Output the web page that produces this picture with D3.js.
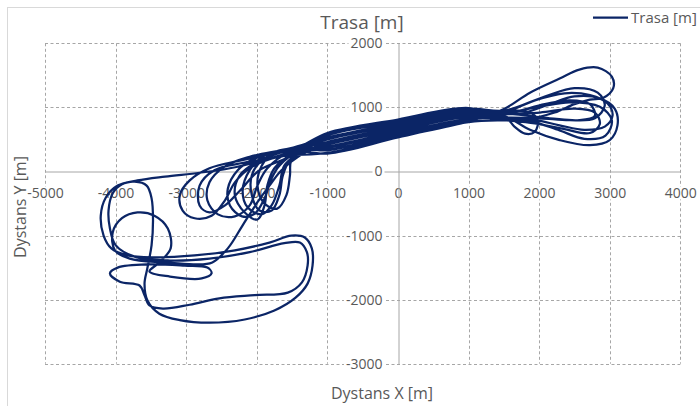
<!DOCTYPE html>
<html>
<head>
<meta charset="utf-8">
<script src="https://cdn.jsdelivr.net/npm/d3@7"></script>
<style>
  html, body { margin: 0; padding: 0; background: #fff; }
  svg { display: block; }
</style>
</head>
<body>
<div id="chart"></div>
<script>
// ---- chart texts and ticks ----
const chartTitle = "Trasa [m]";
const seriesName = "Trasa [m]";
const xTitle = "Dystans X [m]";
const yTitle = "Dystans Y [m]";
const xTicks = [-5000, -4000, -3000, -2000, -1000, 0, 1000, 2000, 3000, 4000];
const yTicks = [-3000, -2000, -1000, 0, 1000, 2000];

// ---- track data [X m, Y m] ----
const leftLoops = [
  [[-1680,300],[-2240,170],[-2670,50],[-2950,-140],[-3090,-370],[-3050,-610],[-2880,-730],[-2640,-690],[-2450,-450],[-2310,-170],[-2100,50],[-1680,230]],
  [[-1530,360],[-2100,230],[-2450,80],[-2670,-170],[-2700,-450],[-2550,-670],[-2310,-700],[-2100,-530],[-1990,-220],[-1850,50],[-1530,300]],
  [[-1530,330],[-2030,200],[-2270,20],[-2410,-270],[-2380,-530],[-2210,-700],[-2030,-660],[-1890,-420],[-1790,-110],[-1680,90],[-1390,330]],
  [[-1460,370],[-1890,250],[-2100,20],[-2200,-300],[-2130,-560],[-1930,-670],[-1790,-530],[-1680,-220],[-1610,90],[-1390,300]],
  [[-1390,390],[-1750,300],[-1930,90],[-1990,-220],[-1890,-500],[-1710,-580],[-1580,-370],[-1530,-60],[-1510,170],[-1320,330]],
  [[-1530,330],[-1960,170],[-2240,-60],[-2310,-370],[-2170,-640],[-1990,-750],[-1890,-530],[-1850,-220],[-1750,50],[-1460,300]],
  [[-1530,270],[-2170,140],[-2600,20],[-2810,-220],[-2810,-530],[-2670,-640],[-2450,-530],[-2240,-300],[-1960,20],[-1530,230]],
  [[-1610,330],[-1930,170],[-2070,-60],[-2070,-370],[-1960,-610],[-1790,-610],[-1680,-370],[-1630,-60],[-1530,170],[-1320,300]]
];
const rightLoops = [
  [[1510,980],[1870,1230],[2290,1450],[2570,1590],[2830,1620],[3030,1480],[3050,1300],[2910,1150],[2720,1120],[2500,1050],[2220,920],[1870,830],[1510,830]],
  [[1510,920],[1940,1110],[2360,1220],[2720,1190],[2970,1060],[3040,870],[2930,700],[2640,650],[2290,720],[1940,800],[1510,800]],
  [[1510,860],[1870,650],[2290,490],[2720,410],[3000,490],[3110,720],[3070,980],[2860,1140],[2500,1170],[2150,1050],[1800,920],[1510,890]],
  [[1510,920],[2010,1010],[2430,1080],[2860,1010],[3030,800],[2940,560],[2640,510],[2290,640],[1870,790],[1510,830]],
  [[1510,890],[2010,920],[2500,980],[2790,920],[2860,740],[2720,600],[2360,660],[1940,750],[1510,800]],
  [[1510,860],[1650,700],[1800,590],[1940,620],[1980,800],[1870,920],[1650,950],[1510,920]],
  [[1510,950],[2080,1170],[2500,1300],[2830,1230],[2930,1030],[2790,830],[2430,800],[2010,830],[1510,840]],
  [[1510,900],[2150,830],[2570,800],[2790,870],[2720,1050],[2430,1110],[2080,1050],[1510,900]]
];
const outbound = [
  [[-1000,290],[0,540],[1000,780]],
  [[-1000,370],[0,610],[1000,830]],
  [[-1000,460],[0,690],[1000,900]],
  [[-1000,560],[0,770],[1000,960]],
  [[-1000,330],[0,570],[1000,800]],
  [[-1000,500],[0,720],[1000,920]],
  [[-1000,590],[0,800],[1000,980]],
  [[-1000,420],[0,650],[1000,860]]
];
const inbound = [
  [[1000,940],[0,750],[-1000,530]],
  [[1000,770],[0,530],[-1000,280]],
  [[1000,880],[0,670],[-1000,440]],
  [[1000,990],[0,810],[-1000,600]],
  [[1000,850],[0,630],[-1000,390]],
  [[1000,970],[0,780],[-1000,570]],
  [[1000,810],[0,580],[-1000,340]],
  [[1000,930],[0,730],[-1000,510]]
];
const excursion = [
  [-1530,300],[-1930,170],[-2380,50],[-2810,-20],[-3300,-80],[-3690,-140],[-3970,-220],[-4140,-410],
  [-4210,-690],[-4170,-1000],[-4060,-1200],[-3830,-1310],[-3450,-1340],[-2880,-1310],[-2310,-1230],
  [-1820,-1110],[-1510,-1000],[-1320,-1030],[-1220,-1200],[-1210,-1470],[-1280,-1750],[-1450,-1970],
  [-1750,-2170],[-2170,-2310],[-2670,-2360],[-3090,-2320],[-3380,-2220],[-3550,-2010],[-3590,-1750],
  [-3550,-1510],[-3490,-1150],[-3470,-760],[-3490,-420],[-3560,-220],[-3730,-160],[-3910,-200],
  [-4040,-340],[-4100,-610],[-4080,-890],[-4000,-1150],[-3730,-1330],[-3230,-1390],[-2670,-1360],
  [-2100,-1260],[-1610,-1120],[-1390,-1110],[-1290,-1260],[-1280,-1470],[-1360,-1730],[-1560,-1890],
  [-2030,-1930],[-2530,-1980],[-2950,-2080],[-3330,-2140],[-3520,-2090],[-3590,-1930],[-3660,-1780],
  [-3940,-1720],[-4080,-1590],[-3970,-1500],[-3520,-1450],[-3020,-1470],[-2700,-1500],[-2640,-1590],
  [-2780,-1670],[-3230,-1640],[-3520,-1560],[-3380,-1420],[-3220,-1200],[-3260,-890],[-3450,-690],
  [-3690,-640],[-3910,-730],[-4040,-950],[-4010,-1230],[-3800,-1360],[-3300,-1420],[-2880,-1450],
  [-2630,-1420],[-2410,-1200],[-2200,-840],[-1990,-480],[-1820,-220],[-1650,20],[-1390,250]
];
const finalPass = [[-1000,450],[0,690],[1000,880],[1500,920]];

// assemble the single track in flight order
const track = [];
for (let k = 0; k < leftLoops.length; k++) {
  track.push(...leftLoops[k], ...outbound[k], ...rightLoops[k], ...inbound[k]);
}
track.push(...excursion, ...finalPass);

// ---- drawing ----
const W = 700, H = 406;
const navy = "#0b2566";
const textCol = "#595959";
const font = "'Open Sans', 'Noto Sans', sans-serif";

const svg = d3.select("#chart").append("svg")
  .attr("width", W).attr("height", H)
  .style("font-family", font);

svg.append("rect").attr("width", W).attr("height", H).attr("fill", "#fff");
svg.append("rect").attr("x", 7.5).attr("y", 7.5).attr("width", 720).attr("height", 420)
  .attr("fill", "none").attr("stroke", "#d9d9d9").attr("stroke-width", 1);

const x = d3.scaleLinear().domain([-5000, 4000]).range([45, 680.3]);
const y = d3.scaleLinear().domain([-3000, 2000]).range([363.7, 43.3]);

// gridlines
const grid = svg.append("g");
grid.selectAll("line.v").data(xTicks.filter(d => d !== 0)).join("line")
  .attr("x1", d => Math.round(x(d)) + 0.5).attr("x2", d => Math.round(x(d)) + 0.5)
  .attr("y1", y(2000)).attr("y2", y(-3000))
  .attr("stroke", "#a6a6a6").attr("stroke-width", 1).attr("stroke-dasharray", "3,2.5");
grid.selectAll("line.h").data(yTicks.filter(d => d !== 0)).join("line")
  .attr("y1", d => Math.round(y(d)) + 0.5).attr("y2", d => Math.round(y(d)) + 0.5)
  .attr("x1", x(-5000)).attr("x2", x(4000))
  .attr("stroke", "#a6a6a6").attr("stroke-width", 1).attr("stroke-dasharray", "3,2.5");

// axes (crossing at origin)
const fmt = d => String(d);
const xAxis = svg.append("g").attr("transform", `translate(0,${Math.round(y(0)) + 0.5})`)
  .call(d3.axisBottom(x).tickValues(xTicks).tickSize(0).tickPadding(17).tickFormat(fmt));
const yAxis = svg.append("g").attr("transform", `translate(${Math.round(x(0)) + 0.5},0)`)
  .call(d3.axisLeft(y).tickValues(yTicks).tickSize(0).tickPadding(16).tickFormat(fmt));
[xAxis, yAxis].forEach(a => {
  a.select(".domain").attr("stroke", "#a6a6a6").attr("stroke-width", 1);
  a.selectAll(".tick text").attr("fill", textCol).style("font-size", "14px").style("font-family", font);
  a.selectAll(".tick").each(function() {
    const t = d3.select(this).select("text");
    const b = t.node().getBBox();
    d3.select(this).insert("rect", "text")
      .attr("x", b.x - 2).attr("y", b.y + 3).attr("width", b.width + 4).attr("height", b.height - 6)
      .attr("fill", "#fff");
  });
});

// series
const line = d3.line()
  .x(d => x(d[0])).y(d => y(d[1]))
  .curve(d3.curveCatmullRom.alpha(0.5));
svg.append("path").datum(track)
  .attr("d", line)
  .attr("fill", "none").attr("stroke", navy).attr("stroke-width", 2.25)
  .attr("stroke-linejoin", "round").attr("stroke-linecap", "round");

// titles
svg.append("text").attr("x", 362).attr("y", 28.5).attr("text-anchor", "middle")
  .attr("fill", textCol).style("font-size", "19px").text(chartTitle);
svg.append("text").attr("x", 382).attr("y", 398.5).attr("text-anchor", "middle")
  .attr("fill", textCol).style("font-size", "16px").text(xTitle);
svg.append("text").attr("transform", "translate(26,207) rotate(-90)").attr("text-anchor", "middle")
  .attr("fill", textCol).style("font-size", "16px").text(yTitle);

// legend
svg.append("line").attr("x1", 593).attr("x2", 628).attr("y1", 17.5).attr("y2", 17.5)
  .attr("stroke", navy).attr("stroke-width", 2.25);
svg.append("text").attr("x", 631).attr("y", 22.5)
  .attr("fill", textCol).style("font-size", "15px").text(seriesName);
</script>
</body>
</html>
